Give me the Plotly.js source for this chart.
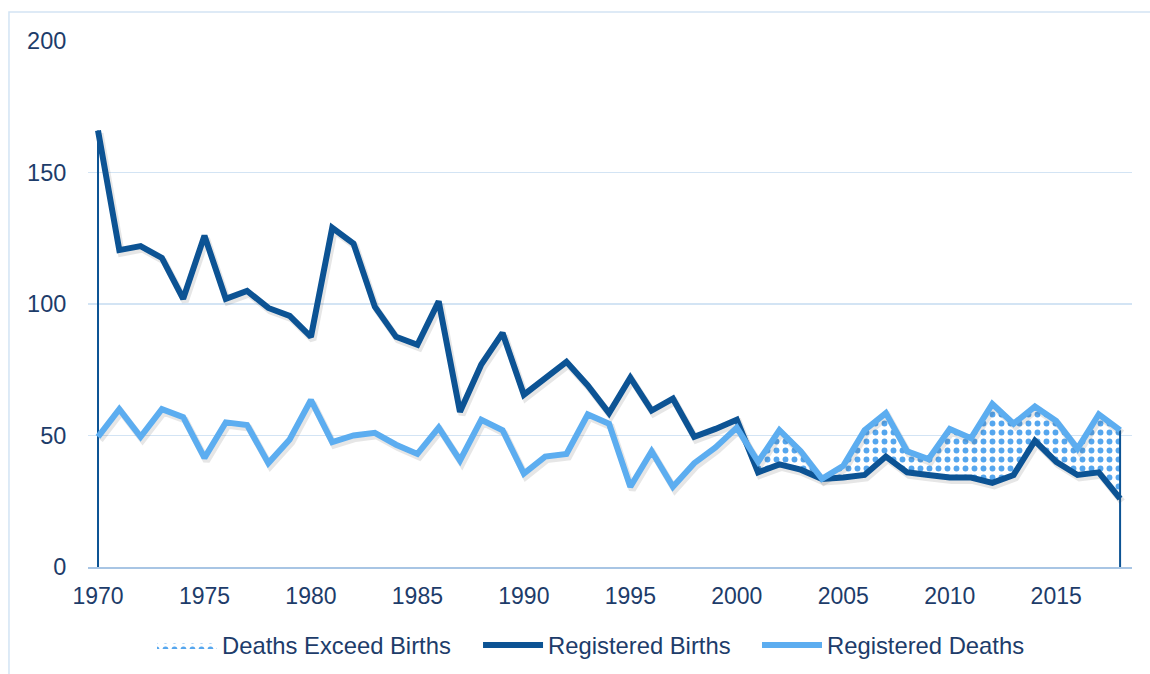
<!DOCTYPE html>
<html>
<head>
<meta charset="utf-8">
<script src="https://cdn.plot.ly/plotly-3.0.1.min.js"></script>
<style>html,body{margin:0;padding:0;background:#fff;}#chart{width:1150px;height:674px;}</style>
</head>
<body>
<div id="chart"></div>
<script>
const years = [1970,1971,1972,1973,1974,1975,1976,1977,1978,1979,1980,1981,1982,1983,1984,1985,1986,1987,1988,1989,1990,1991,1992,1993,1994,1995,1996,1997,1998,1999,2000,2001,2002,2003,2004,2005,2006,2007,2008,2009,2010,2011,2012,2013,2014,2015,2016,2017,2018];
const births = [166,120.5,122,117.5,102,126,102,105,98.5,95.5,87.5,129,123,99,87.5,84.5,101,59,77,89,65.5,72,78,69,58.5,72,59.5,64,49.5,52.5,56,36,39,37,33.5,34,35,42,36,35,34,34,32,35,48,40,35,36,26];
const deaths = [49.5,60,49.5,60,57,41.5,55,54,39.5,48.5,63.5,47.5,50,51,46.5,43,53,40.5,56,52,35.5,42,43,58,54.5,30.5,44,30.5,39.5,45.5,53,40,52,44,33.5,38.5,52,58.5,44,41,52.5,49,62,54.5,61,55.5,45,58,52];
const xTicks = [1970,1975,1980,1985,1990,1995,2000,2005,2010,2015];
const yTicks = [0,50,100,150,200];
const seriesNames = ['Deaths Exceed Births', 'Registered Births', 'Registered Deaths'];

const DARK = '#0c5394';
const LIGHT = '#5cadf0';
const TXT = '#1d3c6a';
const SHADOW = 'rgba(60,60,60,0.13)';

// stacked top of the "deaths exceed births" band
const bandTop = births.map((b, i) => b + Math.max(deaths[i] - b, 0));
const n = years.length;

const XR = [1969.53, 2018.56];
const YR = [0, 200];
// shadow offset: ~2px right, ~3px down
const dx = 2 * (XR[1] - XR[0]) / 1044;
const dy = 3 * (YR[1] - YR[0]) / 526;

const traces = [
  {x: years, y: births, mode: 'lines', line: {width: 0, color: DARK}, showlegend: false, hoverinfo: 'skip'},
  {x: years, y: bandTop, mode: 'lines', name: seriesNames[0], fill: 'tonexty', legend: 'legend',
   line: {width: 0, color: LIGHT},
   fillcolor: 'rgba(255,255,255,0)',
   fillpattern: {shape: '.', fgcolor: '#55a6ee', bgcolor: '#ffffff', size: 9, solidity: 0.33}},
  {x: [years[0], years[0], null, years[n-1], years[n-1]], y: [0, births[0], null, 0, bandTop[n-1]],
   mode: 'lines', line: {width: 2, color: DARK}, showlegend: false, hoverinfo: 'skip'},
  {x: years, y: births, xaxis: 'x2', yaxis: 'y2', mode: 'lines', line: {width: 7, color: SHADOW}, showlegend: false, hoverinfo: 'skip'},
  {x: years, y: deaths, xaxis: 'x2', yaxis: 'y2', mode: 'lines', line: {width: 7, color: SHADOW}, showlegend: false, hoverinfo: 'skip'},
  {x: years, y: births, xaxis: 'x3', yaxis: 'y3', mode: 'lines', name: seriesNames[1], legend: 'legend2', line: {width: 6, color: DARK}},
  {x: years, y: deaths, xaxis: 'x3', yaxis: 'y3', mode: 'lines', name: seriesNames[2], legend: 'legend3', line: {width: 6, color: LIGHT}}
];

const hidden = {showgrid: false, zeroline: false, showline: false, showticklabels: false, ticks: ''};
const legendBase = {orientation: 'h', xref: 'paper', xanchor: 'left', yref: 'container', y: 0.043, yanchor: 'middle',
                    font: {size: 23.8, color: TXT}, itemwidth: 60, bgcolor: 'rgba(0,0,0,0)', borderwidth: 0};

const layout = {
  width: 1150, height: 674,
  margin: {l: 88, r: 18, t: 41, b: 107, autoexpand: false},
  paper_bgcolor: '#ffffff', plot_bgcolor: '#ffffff',
  font: {family: 'Liberation Sans, Arial, sans-serif', color: TXT, size: 23.5},
  showlegend: true,
  legend: Object.assign({x: 0.0613}, legendBase),
  legend2: Object.assign({x: 0.3736}, legendBase),
  legend3: Object.assign({x: 0.6408}, legendBase),
  xaxis: {range: XR, tickvals: xTicks, ticktext: xTicks.map(String),
          showgrid: false, zeroline: false, showline: true, linecolor: '#a8c5e4', linewidth: 2,
          ticks: 'outside', ticklen: 7, tickcolor: 'rgba(0,0,0,0)', tickfont: {size: 23, color: TXT}},
  yaxis: {range: YR, tickvals: yTicks, ticktext: yTicks.map(String),
          showgrid: true, gridcolor: '#d3e4f4', gridwidth: 1.5, zeroline: false, showline: false,
          ticks: 'outside', ticklen: 16, tickcolor: 'rgba(0,0,0,0)', tickfont: {size: 23.5, color: TXT}},
  xaxis2: Object.assign({overlaying: 'x', range: [XR[0] - dx, XR[1] - dx]}, hidden),
  yaxis2: Object.assign({overlaying: 'y', range: [YR[0] + dy, YR[1] + dy]}, hidden),
  xaxis3: Object.assign({overlaying: 'x', range: XR}, hidden),
  yaxis3: Object.assign({overlaying: 'y', range: YR}, hidden),
  shapes: [
    {type: 'rect', xref: 'paper', yref: 'paper', x0: -0.0757, x1: 1.1, y0: -0.4, y1: 1.0551,
     line: {color: '#d3e4f4', width: 1.5}, fillcolor: 'rgba(0,0,0,0)', layer: 'below'}
  ]
};

Plotly.newPlot('chart', traces, layout, {displayModeBar: false, staticPlot: true});
</script>
</body>
</html>
